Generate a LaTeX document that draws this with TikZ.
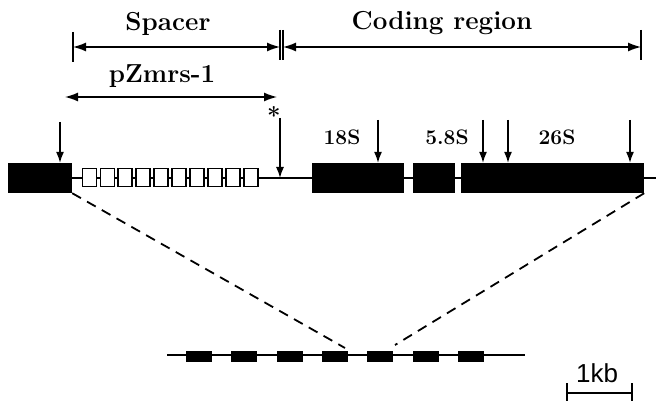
\documentclass[tikz,border=0pt]{standalone}
\usepackage{fontspec}
\newfontfamily\scalefont{Liberation Sans}
\usetikzlibrary{arrows.meta}
\begin{document}
\begin{tikzpicture}[x=1pt,y=-1pt,
  exon/.style={draw=none,fill=black,inner sep=0pt,minimum height=30pt},
  repeatbox/.style={draw=black,line width=1.8pt,fill=white,inner sep=0pt,minimum width=14pt,minimum height=18pt},
  minirep/.style={draw=none,fill=black,inner sep=0pt,minimum width=26pt,minimum height=11pt},
  dna/.style={line width=2.2pt},
  site/.style={line width=1.3pt,-{Latex[length=11pt,width=8pt]}},
  span/.style={line width=1.4pt,{Latex[length=13pt,width=9pt]}-{Latex[length=13pt,width=9pt]}},
  tick/.style={line width=1.4pt},
  head/.style={font=\fontsize{26}{28}\selectfont\bfseries},
  rlabel/.style={font=\fontsize{21}{23}\selectfont\bfseries},
  zoomline/.style={line width=1.8pt,dash pattern=on 10pt off 7pt}]
\useasboundingbox (0,0) rectangle (656,403);

% region headings with their extent bars
\node[head] (spacer) at (168,24) {Spacer};
\node[head] (coding) at (442,23) {Coding region};
\coordinate (sL) at (73,47);
\coordinate (sR) at (280,47);
\coordinate (cL) at (283,47);
\coordinate (cR) at (641,47);
\draw[span] (sL) -- (sR);
\draw[span] (cL) -- (cR);
\draw[tick] (73,32) -- (73,62);
\draw[tick] (280,30) -- (280,60);
\draw[tick] (283,30) -- (283,60);
\draw[tick] (641,30) -- (641,60);

% cloned fragment
\node[head] (clone) at (162,76) {pZmrs-1};
\coordinate (pL) at (65,97);
\coordinate (pR) at (277,97);
\draw[span] (pL) -- (pR);

% repeat unit: spacer line, coding blocks
\coordinate (lineEnd) at (656,178);
\node[exon,minimum width=64pt] (prev) at (40,178) {};
\node[exon,minimum width=92pt] (s18) at (358,178) {};
\node[exon,minimum width=42pt] (s58) at (434,178) {};
\node[exon,minimum width=183pt] (s26) at (552.5,178) {};
\draw[dna] (prev.east) -- (lineEnd);
\foreach \i in {0,...,9}
  \node[repeatbox] (r\i) at (89.5+17.9*\i,177.5) {};

% gene labels
\node[rlabel] (l18) at (342,137) {18S};
\node[rlabel] (l58) at (447,137) {5.8S};
\node[rlabel] (l26) at (557,137) {26S};

% restriction sites
\coordinate (a0) at (60,122);
\draw[site] (a0) -- (a0 |- prev.north);
\coordinate (a1) at (378,120);
\draw[site] (a1) -- (a1 |- s18.north);
\coordinate (a2) at (483,120);
\draw[site] (a2) -- (a2 |- s26.north);
\coordinate (a3) at (508,120);
\draw[site] (a3) -- (a3 |- s26.north);
\coordinate (a4) at (630,120);
\draw[site] (a4) -- (a4 |- s26.north);
\coordinate (a5) at (280,118);
\coordinate (a5e) at (280,178);
\draw[site] (a5) -- (a5e);
\node[font=\fontsize{24}{24}\selectfont\bfseries] (star) at (274,116) {*};

% tandem array at reduced scale
\coordinate (tL) at (167,355);
\coordinate (tR) at (525,355);
\draw[dna,line width=1.8pt] (tL) -- (tR);
\foreach \i in {0,...,6}
  \node[minirep] (m\i) at (199+45.33*\i,356.5) {};

% expansion guides
\coordinate (zL) at (345,348);
\coordinate (zR) at (395,345);
\draw[zoomline] (prev.south east) -- (zL);
\draw[zoomline] (s26.south east) -- (zR);

% scale bar
\node[font=\scalefont\fontsize{26}{26}\selectfont] (kb) at (597,373) {1kb};
\coordinate (bL) at (567,393);
\coordinate (bR) at (632,393);
\draw[tick] (bL) -- (bR);
\draw[tick] (567,383) -- (567,401);
\draw[tick] (632,383) -- (632,401);
\end{tikzpicture}
\end{document}
